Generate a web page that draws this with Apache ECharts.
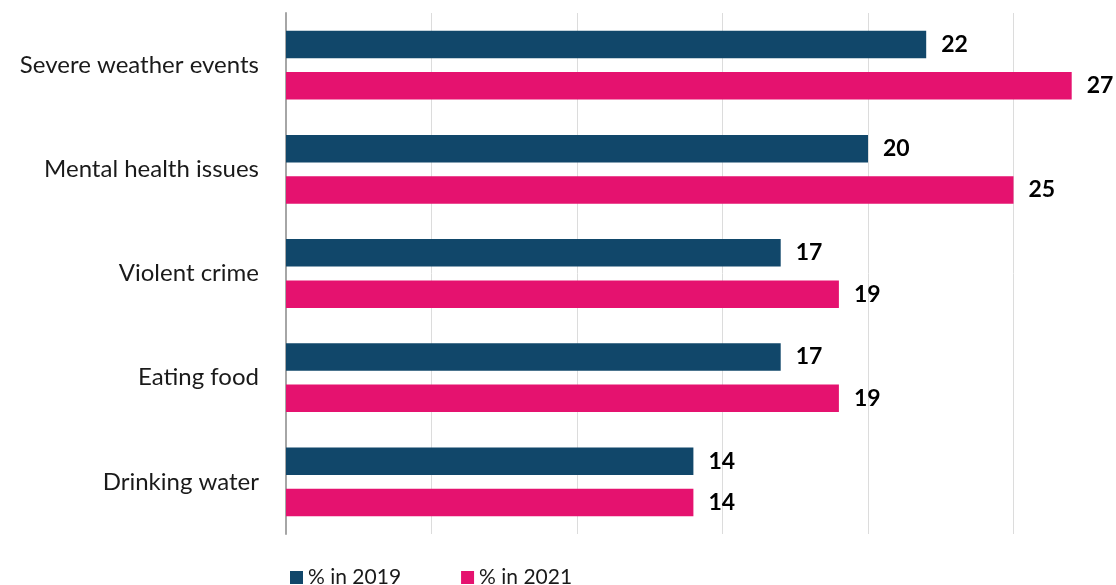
<!DOCTYPE html>
<html>
<head>
<meta charset="utf-8">
<script src="https://cdn.jsdelivr.net/npm/echarts@6/dist/echarts.min.js"></script>
<style>
  html, body { margin: 0; padding: 0; background: #ffffff; }
  #chart { width: 1116px; height: 585px; }
</style>
</head>
<body>
<div id="chart"></div>
<script>
// Concerns, share of respondents
const categories = ['Severe weather events', 'Mental health issues', 'Violent crime', 'Eating food', 'Drinking water'];
const values2019 = [22, 20, 17, 17, 14];
const values2021 = [27, 25, 19, 19, 14];
const seriesNames = ['% in 2019', '% in 2021'];

const FONT = 'Lato, "Open Sans", sans-serif';
const COLORS = ['#11476A', '#E5126F'];

const chart = echarts.init(document.getElementById('chart'), null, { renderer: 'canvas' });

const labelStyle = {
  show: true,
  position: 'right',
  distance: 15,
  color: '#000000',
  fontFamily: FONT,
  fontSize: 23,
  fontWeight: 'bold'
};

chart.setOption({
  animation: false,
  color: COLORS,
  grid: {
    left: 286, top: 13, height: 521, width: 873,
    containLabel: false,
    outerBoundsMode: 'none'
  },
  legend: {
    left: 285,
    top: 562,
    itemWidth: 13,
    itemHeight: 13,
    itemGap: 60,
    icon: 'rect',
    textStyle: { fontFamily: FONT, fontSize: 21, color: '#1a1a1a', padding: [0, 0, 0, 0] },
    data: seriesNames
  },
  xAxis: {
    type: 'value',
    min: 0,
    max: 30,
    interval: 5,
    axisLabel: { show: false },
    axisLine: { show: false },
    axisTick: { show: false },
    splitLine: { show: true, lineStyle: { color: '#dcdcdc', width: 1 } }
  },
  yAxis: {
    type: 'category',
    data: categories,
    inverse: true,
    axisLine: { show: true, lineStyle: { color: '#a6a6a6', width: 2 } },
    axisTick: { show: false },
    axisLabel: { margin: 27, fontFamily: FONT, fontSize: 24, color: '#1a1a1a' }
  },
  series: [
    {
      name: seriesNames[0],
      type: 'bar',
      data: values2019,
      barCategoryGap: '34%',
      barGap: '50%',
      label: labelStyle
    },
    {
      name: seriesNames[1],
      type: 'bar',
      data: values2021,
      barCategoryGap: '34%',
      barGap: '50%',
      label: labelStyle
    }
  ]
});
</script>
</body>
</html>
